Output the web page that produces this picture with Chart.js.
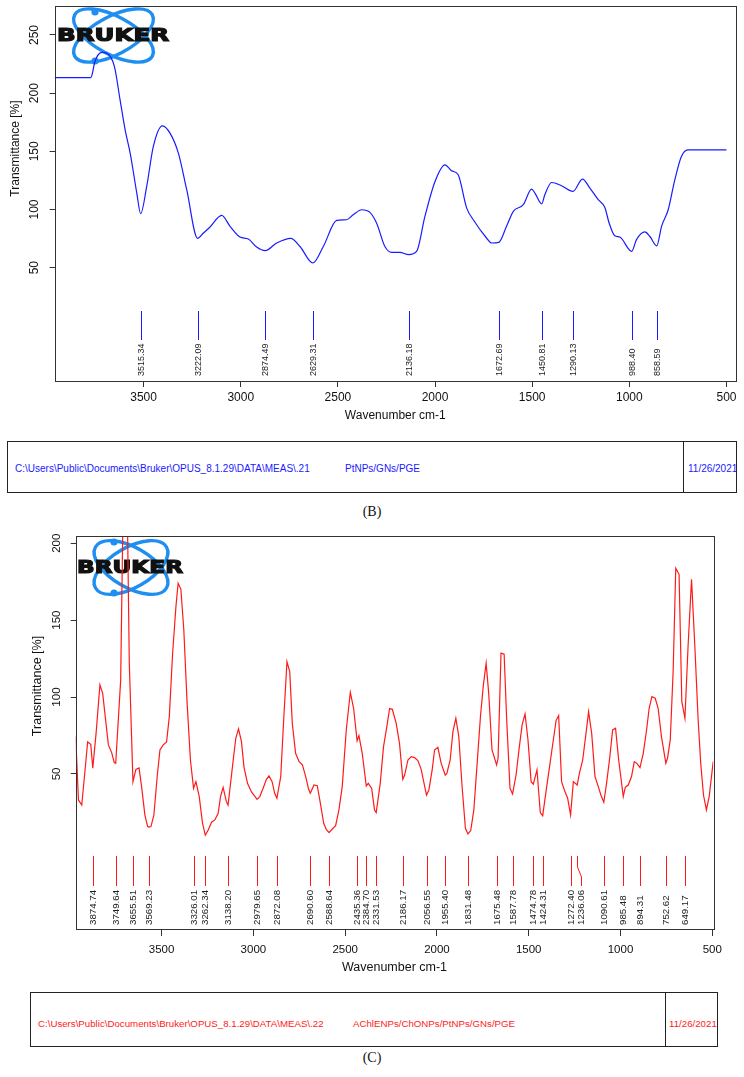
<!DOCTYPE html>
<html>
<head>
<meta charset="utf-8">
<script src="https://cdn.jsdelivr.net/npm/chart.js@4.4.1/dist/chart.umd.min.js"></script>
<style>
  body { margin: 0; background: #fff; width: 744px; height: 1077px; position: relative; overflow: hidden;
         font-family: "Liberation Sans", Arial, sans-serif; }
  canvas { position: absolute; left: 0; }
  .foot { position: absolute; border: 1px solid #222; box-sizing: border-box; }
  .foot .sep { position: absolute; top: 0; bottom: 0; border-left: 1px solid #222; }
  .foot span { position: absolute; white-space: nowrap; transform: translateY(-50%); }
  .cap { position: absolute; left: 0; width: 744px; text-align: center;
         font-family: "Liberation Serif", "Times New Roman", serif; font-size: 14px; color: #111; }
</style>
</head>
<body>
<canvas id="specB" width="744" height="430" style="top:0"></canvas>
<canvas id="specC" width="744" height="460" style="top:520px"></canvas>

<div class="foot" style="left:7px;top:441px;width:730px;height:52px;color:#1a1aff;font-size:10px">
  <span style="left:7px;top:26px">C:\Users\Public\Documents\Bruker\OPUS_8.1.29\DATA\MEAS\.21</span>
  <span style="left:337px;top:26px">PtNPs/GNs/PGE</span>
  <div class="sep" style="left:675px"></div>
  <span style="left:680px;top:26px">11/26/2021</span>
</div>
<div class="cap" style="top:504px">(B)</div>

<div class="foot" style="left:30px;top:992px;width:688px;height:55px;color:#ff1a1a;font-size:9.7px">
  <span style="left:7px;top:30px">C:\Users\Public\Documents\Bruker\OPUS_8.1.29\DATA\MEAS\.22</span>
  <span style="left:322px;top:30px">AChlENPs/ChONPs/PtNPs/GNs/PGE</span>
  <div class="sep" style="left:634px"></div>
  <span style="left:638px;top:30px">11/26/2021</span>
</div>
<div class="cap" style="top:1050px">(C)</div>

<script>
(function () {
    'use strict';

    // ---- data ---------------------------------------------------------
    var xTicks = [3500, 3000, 2500, 2000, 1500, 1000, 500];
    var yTicksB = [50, 100, 150, 200, 250];
    var yTicksC = [50, 100, 150, 200];

    // (B) PtNPs/GNs/PGE
    var wnB = [3958, 3772, 3762, 3753, 3715, 3689, 3650, 3621, 3595, 3569, 3535, 3515, 3484, 3450, 3403,
        3364, 3321, 3278, 3222, 3192, 3158, 3098, 3055, 3004, 2961, 2918, 2874, 2815, 2743, 2695, 2629,
        2575, 2506, 2455, 2421, 2377, 2335, 2300, 2258, 2223, 2181, 2136, 2095, 2052, 2000, 1949, 1915,
        1881, 1837, 1803, 1735, 1709, 1672, 1632, 1597, 1546, 1503, 1486, 1451, 1435, 1400, 1349, 1290,
        1241, 1203, 1160, 1126, 1104, 1075, 1049, 988, 963, 920, 895, 859, 834, 800, 766, 732, 698, 500];
    var trB = [213.4, 213.4, 218, 225.7, 235.1, 234.3, 222.8, 194.2, 168.5, 148.4, 114.1, 96.4, 119.8, 154.1, 171.9,
        165.6, 148.4, 117, 75.2, 79.8, 85, 94.9, 85.5, 76.3, 74.6, 67.7, 64.6, 71.2, 75.2, 68.2, 54,
        68.2, 90.6, 91.2, 95.5, 99.8, 97.5, 88, 68.2, 63.2, 63.2, 61.2, 64, 94.1, 124.1, 138.4, 133.3,
        129.8, 101.2, 91.2, 75.5, 71.2, 71.7, 85.5, 98.4, 104.1, 117.5, 114.1, 104.9, 112.7, 123.2, 120.4, 115.5,
        126.1, 118.4, 108.4, 101.8, 88.4, 77.5, 76.4, 64, 74.1, 80.7, 77, 68.8, 85.5, 99.8, 125.5, 145.6, 151.3, 151.3];
    var peaksB = [3515.34, 3222.09, 2874.49, 2629.31, 2136.18, 1672.69, 1450.81, 1290.13, 988.40, 858.59];

    // (C) AChlENPs/ChONPs/PtNPs/GNs/PGE
    var wnC = [3968, 3953, 3935, 3917, 3903, 3886, 3875, 3857, 3836, 3821, 3790, 3772, 3758, 3750, 3723,
        3712, 3699, 3685, 3676, 3656, 3640, 3623, 3609, 3591, 3576, 3569, 3558, 3542, 3524, 3509, 3491,
        3473, 3458, 3440, 3422, 3410, 3395, 3379, 3361, 3343, 3326, 3313, 3295, 3277, 3262, 3246, 3228,
        3210, 3192, 3179, 3165, 3147, 3138, 3114, 3096, 3081, 3065, 3051, 3032, 3011, 2980, 2965, 2947,
        2929, 2915, 2898, 2884, 2872, 2851, 2835, 2817, 2802, 2788, 2770, 2751, 2733, 2715, 2699, 2690,
        2670, 2652, 2635, 2617, 2603, 2588, 2570, 2552, 2534, 2516, 2494, 2472, 2454, 2435, 2425, 2407,
        2385, 2374, 2356, 2340, 2331, 2309, 2291, 2273, 2258, 2243, 2222, 2204, 2186, 2176, 2158, 2140,
        2122, 2104, 2086, 2057, 2044, 2026, 2013, 1995, 1977, 1955, 1946, 1928, 1913, 1897, 1881, 1863,
        1845, 1831, 1816, 1799, 1781, 1763, 1747, 1732, 1718, 1700, 1675, 1667, 1651, 1634, 1620, 1602,
        1588, 1569, 1551, 1536, 1520, 1504, 1487, 1475, 1455, 1437, 1424, 1402, 1384, 1366, 1351, 1337,
        1321, 1306, 1288, 1272, 1257, 1236, 1224, 1206, 1188, 1174, 1157, 1139, 1121, 1107, 1091, 1076,
        1058, 1043, 1027, 1010, 985, 974, 958, 940, 925, 911, 894, 876, 858, 844, 829, 811, 795, 777,
        753, 744, 729, 713, 699, 681, 666, 649, 632, 613, 595, 577, 563, 548, 532, 517, 495];
    var trC = [74.3, 33.1, 29.8, 52.6, 70.8, 69.3, 53.7, 76.4, 107.9, 102.4, 68.9, 63.9, 57.4, 56.9, 111,
        205, 290, 205, 122, 45, 53, 53.9, 41.8, 23.3, 15.8, 15.5, 15.8, 23.3, 48.3, 65.6, 68.9,
        70.8, 87.3, 128.5, 158.8, 174, 170, 143.6, 95.9, 59.1, 40.7, 45, 35.3, 17.9, 10.3, 13.6, 18.6,
        20.1, 24.4, 35.3, 41.3, 32, 29.8, 54.8, 73.2, 79.3, 71, 54.3, 43.9, 38.5, 33.5, 35.3, 40.7,
        46.5, 48.7, 45, 37.4, 34.2, 48.3, 85.1, 123, 116.5, 82.9, 63.4, 58, 55.9, 48.3, 40, 37.4,
        42.8, 42.4, 30.9, 17.9, 14, 11.9, 14.2, 16.4, 26.6, 41.8, 78.6, 103.1, 92.7, 71.5, 74.9, 63.4,
        42.2, 43.9, 40.7, 26.6, 24.9, 43.9, 67.8, 80.8, 92.5, 92, 82.9, 69.9, 46.5, 49.3, 59.1, 61.3,
        60.6, 58.7, 53, 36.3, 39.6, 52.6, 65.6, 67.3, 56.9, 49.3, 50.4, 59.1, 77.5, 86.2, 74.3, 41.8,
        14.7, 11, 13.2, 26.6, 56.9, 87.3, 107.9, 122, 102.4, 65.6, 55.9, 60.2, 128.5, 127.8, 85.1, 40.7,
        37, 49.3, 67.8, 81.9, 89, 72.1, 45, 43.3, 52.6, 24.9, 22.9, 41.8, 56.9, 72.1, 84.7, 88,
        45, 39.6, 34.2, 23.3, 45, 42.8, 50.4, 59.1, 76.4, 90.5, 76.4, 48.3, 41.8, 36.3, 31.6, 43.9,
        61.3, 78.6, 79.7, 59.1, 35.3, 41.3, 42.8, 48.3, 58, 56.9, 54.1, 63.4, 78.6, 92.7, 100.3, 99.2, 92.7, 74.3,
        56.9, 60.2, 72.1, 117.6, 183.7, 179.8, 97, 86.2, 132.8, 176.6, 132.8, 85.1, 56.9, 36.3, 26.6, 35.3, 58];
    var peaksC = [3874.74, 3749.64, 3655.51, 3569.23, 3326.01, 3262.34, 3138.20, 2979.65, 2872.08, 2690.60,
        2588.64, 2435.36, 2384.70, 2331.53, 2186.17, 2056.55, 1955.40, 1831.48, 1675.48, 1587.78,
        1474.78, 1424.31, 1272.40, 1236.06, 1090.61, 985.48, 894.31, 752.62, 649.17];

    Chart.defaults.font.family = '"Liberation Sans", Arial, sans-serif';
    Chart.defaults.color = '#111';

    // ---- plugins ------------------------------------------------------
    var framePlugin = {
        id: 'frame',
        afterDraw: function (chart, args, o) {
            var a = chart.chartArea, ctx = chart.ctx;
            ctx.save();
            ctx.strokeStyle = '#333';
            ctx.lineWidth = 1;
            ctx.strokeRect(Math.round(a.left) + 0.5, Math.round(a.top) + 0.5,
                Math.round(a.right - a.left), Math.round(a.bottom - a.top));
            // y title: OPUS puts it above the middle of the axis
            ctx.translate(o.titleX, a.top + o.titleY);
            ctx.rotate(-Math.PI / 2);
            ctx.fillStyle = '#111';
            ctx.font = o.titleSize + 'px "Liberation Sans", Arial, sans-serif';
            ctx.textAlign = 'center';
            ctx.textBaseline = 'middle';
            ctx.fillText('Transmittance [%]', 0, 0);
            ctx.restore();
        }
    };

    // peak pick markers with rotated wavenumber labels
    var peakPlugin = {
        id: 'peaks',
        afterDatasetsDraw: function (chart, args, o) {
            var ctx = chart.ctx, xs = chart.scales.x, a = chart.chartArea;
            var y1 = a.bottom - o.lineTop, y2 = a.bottom - o.lineBot;
            var prev = -1e9;
            ctx.save();
            ctx.font = o.font + 'px "Liberation Sans", Arial, sans-serif';
            o.peaks.forEach(function (p) {
                var x = Math.round(xs.getPixelForValue(p)) + 0.5;
                var lx = x;
                if (lx - prev < 8) lx = prev + 10;   // push crowded labels apart
                prev = lx;
                ctx.strokeStyle = o.color;
                ctx.lineWidth = 1;
                ctx.beginPath();
                ctx.moveTo(x, y1);
                if (lx !== x) {
                    ctx.lineTo(x, y1 + (y2 - y1) * 0.37);
                    ctx.lineTo(lx, y1 + (y2 - y1) * 0.7);
                }
                ctx.lineTo(lx, y2);
                ctx.stroke();
                ctx.save();
                ctx.translate(lx, a.bottom - o.labelBot);
                ctx.rotate(-Math.PI / 2);
                ctx.fillStyle = '#222';
                ctx.textAlign = 'left';
                ctx.textBaseline = 'middle';
                ctx.fillText(p.toFixed(2), 0, 0);
                ctx.restore();
            });
            ctx.restore();
        }
    };

    // Bruker logo (orbits + word mark), drawn under the spectrum
    var logoPlugin = {
        id: 'logo',
        beforeDatasetsDraw: function (chart, args, o) {
            var ctx = chart.ctx, a = chart.chartArea;
            var cx = a.left + o.cx, cy = a.top + o.cy;
            ctx.save();
            ctx.strokeStyle = '#1e8ff0';
            ctx.fillStyle = '#1e8ff0';
            ctx.lineWidth = 3.4;
            [1, -1].forEach(function (s) {
                ctx.beginPath();
                ctx.ellipse(cx, cy, o.a, o.b, s * o.rot * Math.PI / 180, 0, Math.PI * 2);
                ctx.stroke();
            });
            o.dots.forEach(function (d) {
                ctx.beginPath();
                ctx.arc(cx + d[0], cy + d[1], 3.6, 0, Math.PI * 2);
                ctx.fill();
            });
            var size = o.cap / 0.73;
            ctx.font = 'bold ' + size + 'px "DejaVu Sans", sans-serif';
            var w = ctx.measureText('BRUKER').width;
            ctx.translate(a.left + o.textLeft, a.top + o.textY);
            ctx.scale(o.textW / w, 1);
            ctx.fillStyle = '#111';
            ctx.strokeStyle = '#111';
            ctx.lineWidth = 1.2;
            ctx.textBaseline = 'middle';
            ctx.fillText('BRUKER', 0, 0);
            ctx.strokeText('BRUKER', 0, 0);
            ctx.restore();
        }
    };

    // ---- chart builder ------------------------------------------------
    function buildSpectrum(id, s) {
        var pts = s.wn.map(function (w, i) { return { x: w, y: s.tr[i] }; });
        return new Chart(document.getElementById(id), {
            type: 'line',
            data: {
                datasets: [{
                    data: pts,
                    borderColor: s.color,
                    borderWidth: 1.2,
                    pointRadius: 0,
                    fill: false,
                    tension: 0,
                    cubicInterpolationMode: s.smooth ? 'monotone' : 'default'
                }]
            },
            options: {
                responsive: false,
                animation: false,
                events: [],
                layout: { padding: s.pad },
                plugins: {
                    legend: { display: false },
                    tooltip: { enabled: false },
                    peaks: s.marker,
                    logo: s.logo,
                    frame: s.frame
                },
                scales: {
                    x: {
                        type: 'linear', reverse: true, min: s.xMin, max: s.xMax,
                        afterBuildTicks: function (sc) { sc.ticks = xTicks.map(function (v) { return { value: v }; }); },
                        afterFit: function (sc) { sc.height = s.xHeight; sc.paddingLeft = 0; sc.paddingRight = 0; },
                        ticks: { font: { size: s.tickFont }, padding: s.xTickPad, maxRotation: 0, autoSkip: false,
                            callback: function (v) { return String(v); } },
                        grid: { drawOnChartArea: false, tickLength: s.xTickLen, color: '#333' },
                        border: { display: false },
                        title: { display: true, text: 'Wavenumber cm-1', font: { size: s.titleFont },
                            padding: { top: 0, bottom: s.xTitlePad } }
                    },
                    y: {
                        type: 'linear', min: s.yMin, max: s.yMax,
                        afterBuildTicks: function (sc) { sc.ticks = s.yTicks.map(function (v) { return { value: v }; }); },
                        afterFit: function (sc) { sc.width = s.yWidth; sc.paddingTop = 0; sc.paddingBottom = 0; },
                        ticks: { font: { size: s.tickFont }, padding: s.yTickPad, minRotation: 90, maxRotation: 90,
                            crossAlign: 'center', autoSkip: false,
                            callback: function (v) { return String(v); } },
                        grid: { drawOnChartArea: false, tickLength: 5, color: '#333' },
                        border: { display: false },
                        title: { display: false }
                    }
                }
            },
            plugins: [logoPlugin, peakPlugin, framePlugin]
        });
    }

    buildSpectrum('specB', {
        wn: wnB, tr: trB, color: '#1a1aff', smooth: true, yTicks: yTicksB,
        xMin: 451, xMax: 3958, yMin: -47.4, yMax: 274.9,
        pad: { top: 6, right: 8, left: 0, bottom: 0 }, yWidth: 54.6, xHeight: 49,
        tickFont: 12, titleFont: 12, xTickLen: 6, xTickPad: 3, xTitlePad: 6.8, yTickPad: 4.6,
        frame: { titleX: 15.5, titleY: 142.5, titleSize: 12 },
        marker: { peaks: peaksB, color: '#1a1aff', lineTop: 70, lineBot: 41, labelBot: 5, font: 9 },
        logo: { cx: 58.9, cy: 29.5, a: 44, b: 19, rot: 28, dots: [[-18.5, -23.5], [-18.5, 25.5]],
            textLeft: 2.4, textY: 30.3, textW: 112, cap: 12.7 }
    });

    buildSpectrum('specC', {
        wn: wnC, tr: trC, color: '#ff1a1a', smooth: false, yTicks: yTicksC,
        xMin: 494.5, xMax: 3968, yMin: -50.8, yMax: 204.7,
        pad: { top: 16, right: 30.7, left: 0, bottom: 0 }, yWidth: 75.7, xHeight: 51,
        tickFont: 11.5, titleFont: 12.5, xTickLen: 7, xTickPad: 7, xTitlePad: 4.5, yTickPad: 4.4,
        frame: { titleX: 38, titleY: 150, titleSize: 12.5 },
        marker: { peaks: peaksC, color: '#ff1a1a', lineTop: 73, lineBot: 43, labelBot: 4, font: 9.7 },
        logo: { cx: 55.3, cy: 31.5, a: 41, b: 20, rot: 30, dots: [[-17, -25.5], [-17, 25.5]],
            textLeft: 1.3, textY: 32, textW: 106, cap: 12.7 }
    });
})();
</script>
</body>
</html>
